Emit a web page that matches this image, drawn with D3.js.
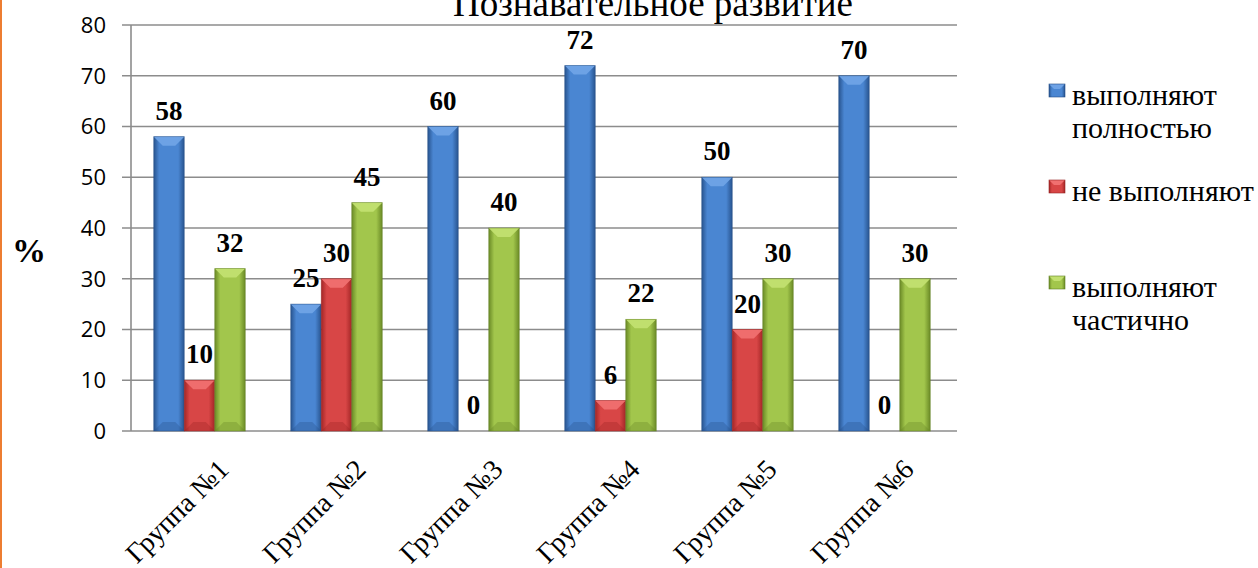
<!DOCTYPE html>
<html>
<head>
<meta charset="utf-8">
<script src="https://cdn.jsdelivr.net/npm/d3@7"></script>
<style>
  html, body { margin: 0; padding: 0; background: #fff; }
  svg { display: block; }
  .serif { font-family: "Liberation Serif", "DejaVu Serif", serif; }
  .sans { font-family: "Open Sans", sans-serif; }
</style>
</head>
<body>
<svg id="chart" width="1258" height="568"></svg>
<script>
const title = "Познавательное развитие";
const yAxisLabel = "%";
const categories = ["Группа №1", "Группа №2", "Группа №3", "Группа №4", "Группа №5", "Группа №6"];
const seriesKeys = ["full", "none", "partial"];
const legendLines = [["выполняют", "полностью"], ["не выполняют"], ["выполняют", "частично"]];
const fullValues = [58, 25, 60, 72, 50, 70];
const noneValues = [10, 30, 0, 6, 20, 0];
const partialValues = [32, 45, 40, 22, 30, 30];
const yTicks = [0, 10, 20, 30, 40, 50, 60, 70, 80];

const seriesValues = { full: fullValues, none: noneValues, partial: partialValues };
const palette = {
  full:    { dark: "#28548f", mid: "#4a86d2", light: "#6fa3e6", edge: "#234c85" },
  none:    { dark: "#a32626", mid: "#d84646", light: "#f07070", edge: "#962222" },
  partial: { dark: "#6a8a26", mid: "#a2c64c", light: "#c2e070", edge: "#607f22" }
};

const svg = d3.select("#chart");
const W = 1258, H = 568;
svg.append("rect").attr("width", W).attr("height", H).attr("fill", "#fff");
svg.append("rect").attr("x", 0).attr("y", 0).attr("width", 2).attr("height", H).attr("fill", "#ed7d31");

const plotLeft = 131, plotRight = 953, gridRight = 957;
const y = d3.scaleLinear().domain([0, 80]).range([431, 25]);
const x0 = d3.scaleBand().domain(categories).range([plotLeft, plotRight]).paddingInner(0.332).paddingOuter(0.166);
const x1 = d3.scaleBand().domain(seriesKeys).range([0, x0.bandwidth()]);

const defs = svg.append("defs");
seriesKeys.forEach(k => {
  const c = palette[k];
  const g = defs.append("linearGradient").attr("id", "g-" + k).attr("x1", 0).attr("x2", 1).attr("y1", 0).attr("y2", 0);
  g.append("stop").attr("offset", "0%").attr("stop-color", c.dark);
  g.append("stop").attr("offset", "18%").attr("stop-color", c.mid);
  g.append("stop").attr("offset", "80%").attr("stop-color", c.mid);
  g.append("stop").attr("offset", "100%").attr("stop-color", c.dark);
});

const grid = svg.append("g");
grid.selectAll("line").data(yTicks).join("line")
  .attr("x1", plotLeft - 9).attr("x2", gridRight)
  .attr("y1", d => y(d)).attr("y2", d => y(d))
  .attr("stroke", "#8c8c8c").attr("stroke-width", 1.6);
svg.append("line").attr("x1", plotLeft).attr("x2", plotLeft)
  .attr("y1", y(80)).attr("y2", y(0)).attr("stroke", "#8c8c8c").attr("stroke-width", 1.6);

svg.append("g").selectAll("text").data(yTicks).join("text")
  .attr("class", "sans")
  .attr("x", 106).attr("y", d => y(d)).attr("dy", "0.36em")
  .attr("text-anchor", "end")
  .attr("font-size", 22).attr("fill", "#000")
  .text(d => d);

const groups = svg.append("g").selectAll("g").data(categories).join("g")
  .attr("transform", d => `translate(${x0(d)},0)`);

const barData = (cat, i) => seriesKeys.map(k => ({ key: k, value: seriesValues[k][i] }));

groups.each(function(cat, i) {
  const g = d3.select(this);
  const items = barData(cat, i);
  items.forEach(it => {
    if (it.value <= 0) return;
    const bx = x1(it.key), bw = x1.bandwidth();
    const top = y(it.value), bottom = y(0);
    const c = palette[it.key];
    const bev = Math.min(9, (bottom - top) / 2);
    g.append("rect").attr("x", bx).attr("y", top).attr("width", bw).attr("height", bottom - top)
      .attr("fill", `url(#g-${it.key})`);
    g.append("path")
      .attr("d", `M${bx},${top} L${bx + bw},${top} L${bx + bw - bev},${top + bev} L${bx + bev},${top + bev} Z`)
      .attr("fill", c.light).attr("opacity", 0.95);
    g.append("path")
      .attr("d", `M${bx},${bottom} L${bx + bw},${bottom} L${bx + bw - bev},${bottom - bev} L${bx + bev},${bottom - bev} Z`)
      .attr("fill", c.edge).attr("opacity", 0.3);
    g.append("rect").attr("x", bx).attr("y", top).attr("width", bw).attr("height", bottom - top)
      .attr("fill", "none").attr("stroke", c.edge).attr("stroke-width", 0.8).attr("stroke-opacity", 0.6);
  });
  g.selectAll("text.val").data(items).join("text").attr("class", "val serif")
    .attr("x", d => x1(d.key) + x1.bandwidth() / 2)
    .attr("y", d => y(d.value) - 17)
    .attr("text-anchor", "middle")
    .attr("font-weight", "bold").attr("font-size", 27).attr("fill", "#000")
    .text(d => d.value);
});

svg.append("g").selectAll("text").data(categories).join("text")
  .attr("class", "serif")
  .attr("transform", d => `translate(${x0(d) + x0.bandwidth() / 2 + 31},471) rotate(-45)`)
  .attr("text-anchor", "end")
  .attr("font-size", 28).attr("fill", "#000")
  .text(d => d);

svg.append("text").attr("class", "serif").attr("x", 653).attr("y", 16).attr("text-anchor", "middle")
  .attr("font-size", 37).attr("fill", "#000").text(title);

svg.append("text").attr("class", "serif").attr("x", 29).attr("y", 262).attr("text-anchor", "middle")
  .attr("font-weight", "bold").attr("font-size", 34).attr("fill", "#000").text(yAxisLabel);

const legendTop = [84, 180, 276];
const leg = svg.append("g");
seriesKeys.forEach((k, i) => {
  const c = palette[k];
  const lg = leg.append("g").attr("transform", `translate(1049,${legendTop[i]})`);
  lg.append("rect").attr("width", 16).attr("height", 13).attr("fill", `url(#g-${k})`);
  lg.append("path").attr("d", "M0,0 L16,0 L11,5 L5,5 Z").attr("fill", c.light);
  lg.append("rect").attr("width", 16).attr("height", 13).attr("fill", "none").attr("stroke", c.edge).attr("stroke-width", 0.6);
  legendLines[i].forEach((line, j) => {
    lg.append("text").attr("class", "serif").attr("x", 23).attr("y", 21 + j * 33)
      .attr("font-size", 30).attr("fill", "#000").text(line);
  });
});
</script>
</body>
</html>
